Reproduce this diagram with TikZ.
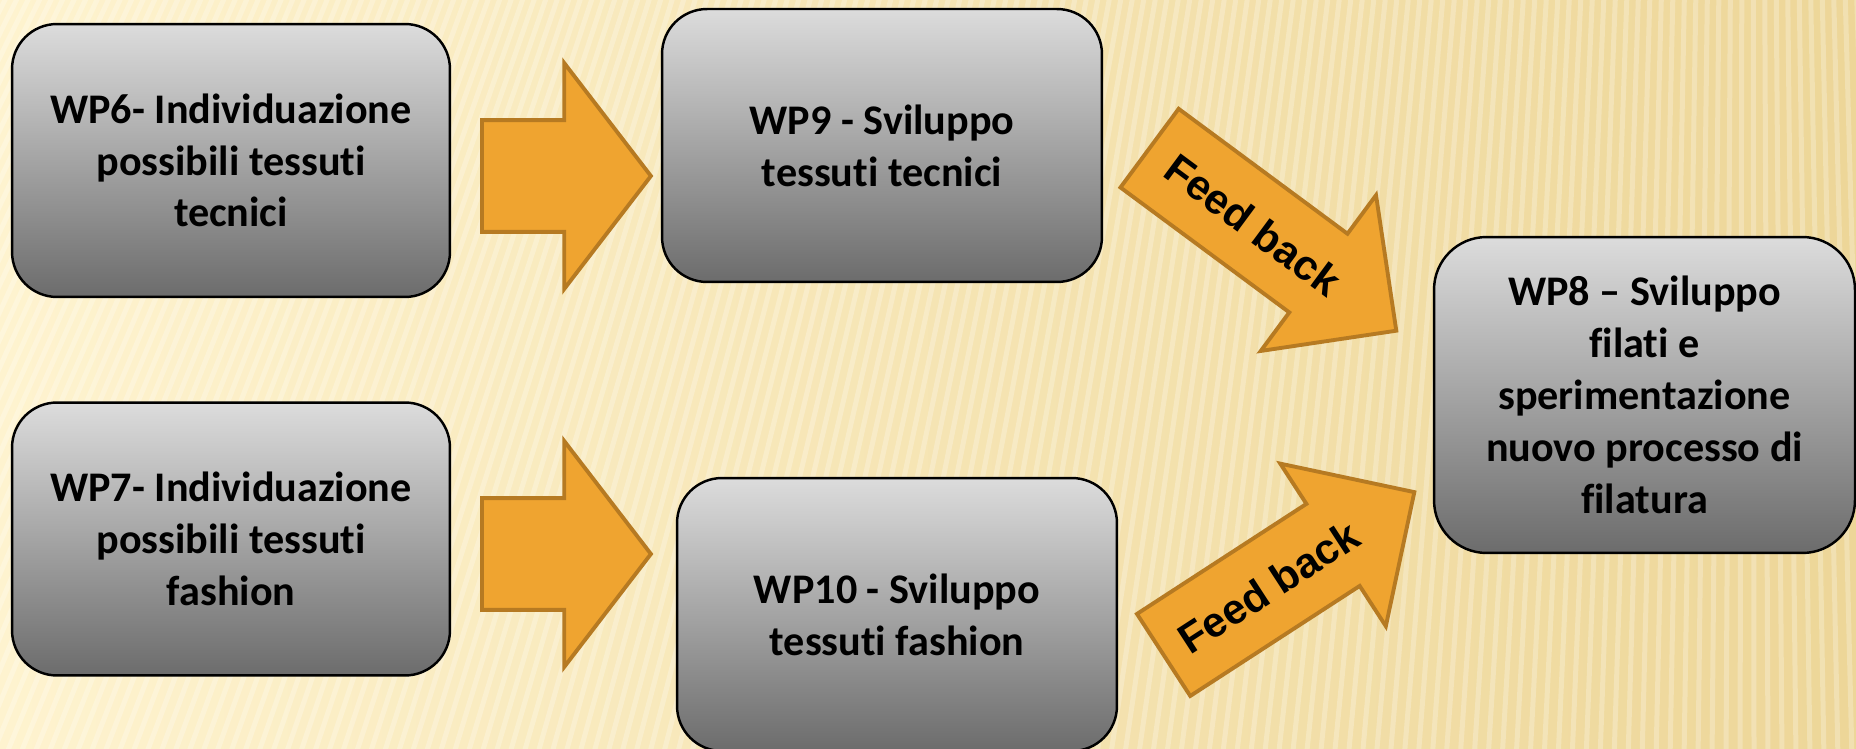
\documentclass[tikz,border=0pt]{standalone}
\usepackage{fontspec}
\setmainfont{Carlito}[Ligatures=NoCommon]
\newfontfamily\fbfont{Liberation Sans}
\usetikzlibrary{shapes.arrows}
\usetikzlibrary{positioning}
\definecolor{bgleft}{RGB}{254,243,207}
\definecolor{bgright}{RGB}{237,214,152}
\definecolor{boxtop}{RGB}{220,220,220}
\definecolor{boxbot}{RGB}{108,108,108}
\definecolor{arrowfill}{RGB}{239,164,48}
\definecolor{arrowline}{RGB}{182,122,34}

\begin{document}
\begin{tikzpicture}[x=0.02cm,y=-0.02cm,
        wpbox/.style={draw=black,line width=1.4pt,rounded corners=0.9cm,
            top color=boxtop,bottom color=boxbot,
            minimum width=8.76cm,minimum height=5.46cm,align=center,
            font=\bfseries\fontsize{24}{29.5}\selectfont},
        bigarrow/.style={single arrow,draw=arrowline,fill=arrowfill,line width=2.2pt,
            single arrow tip angle=105,minimum height=3.38cm,
            inner xsep=0pt,inner ysep=1.08cm,single arrow head extend=1.14cm},
        fbarrow/.style={single arrow,draw=arrowline,fill=arrowfill,line width=2.2pt,
            single arrow tip angle=90,inner ysep=0.63cm,single arrow head extend=0.96cm,
            font=\fbfont\bfseries\fontsize{24}{29}\selectfont}]

    % Background
    \useasboundingbox (0,0) rectangle (1856,749);
    \fill[left color=bgleft,right color=bgright] (0,0) rectangle (1856,749);
    \begin{scope}
        \clip (0,0) rectangle (1856,749);
        \foreach \x in {-1200,-1186,...,1900}
            \draw[white,opacity=0.25,line width=0.1cm] (1750,-3500) -- (\x,760);
    \end{scope}

    % Work packages
    \node[wpbox] (WP6) at (231,160.5) {WP6- Individuazione\\possibili tessuti\\tecnici};
    \node[wpbox] (WP7) at (231,539) {WP7- Individuazione\\possibili tessuti\\fashion};
    \node[wpbox,minimum width=8.8cm] (WP9) at (882,145.5) {WP9 - Sviluppo\\tessuti tecnici};
    \node[wpbox,minimum width=8.8cm] (WP10) at (897,614.5) {WP10 - Sviluppo\\tessuti fashion};
    \node[wpbox,minimum width=8.42cm,minimum height=6.32cm,rounded corners=1.05cm] (WP8) at (1644.5,395)
        {WP8 -- Sviluppo\\filati e\\sperimentazione\\nuovo processo di\\filatura};

    % Arrows
    \node[bigarrow,anchor=tail] (A1) at (480,176) {};
    \node[bigarrow,anchor=tail] (A2) at (480,554) {};
    \node[fbarrow,anchor=tail,rotate=-36.5,minimum height=6.14cm] (FB1) at (1148,147) {Feed back};
    \node[fbarrow,anchor=tail,rotate=33,minimum height=5.98cm] (FB2) at (1162,656) {Feed back};
\end{tikzpicture}
\end{document}
